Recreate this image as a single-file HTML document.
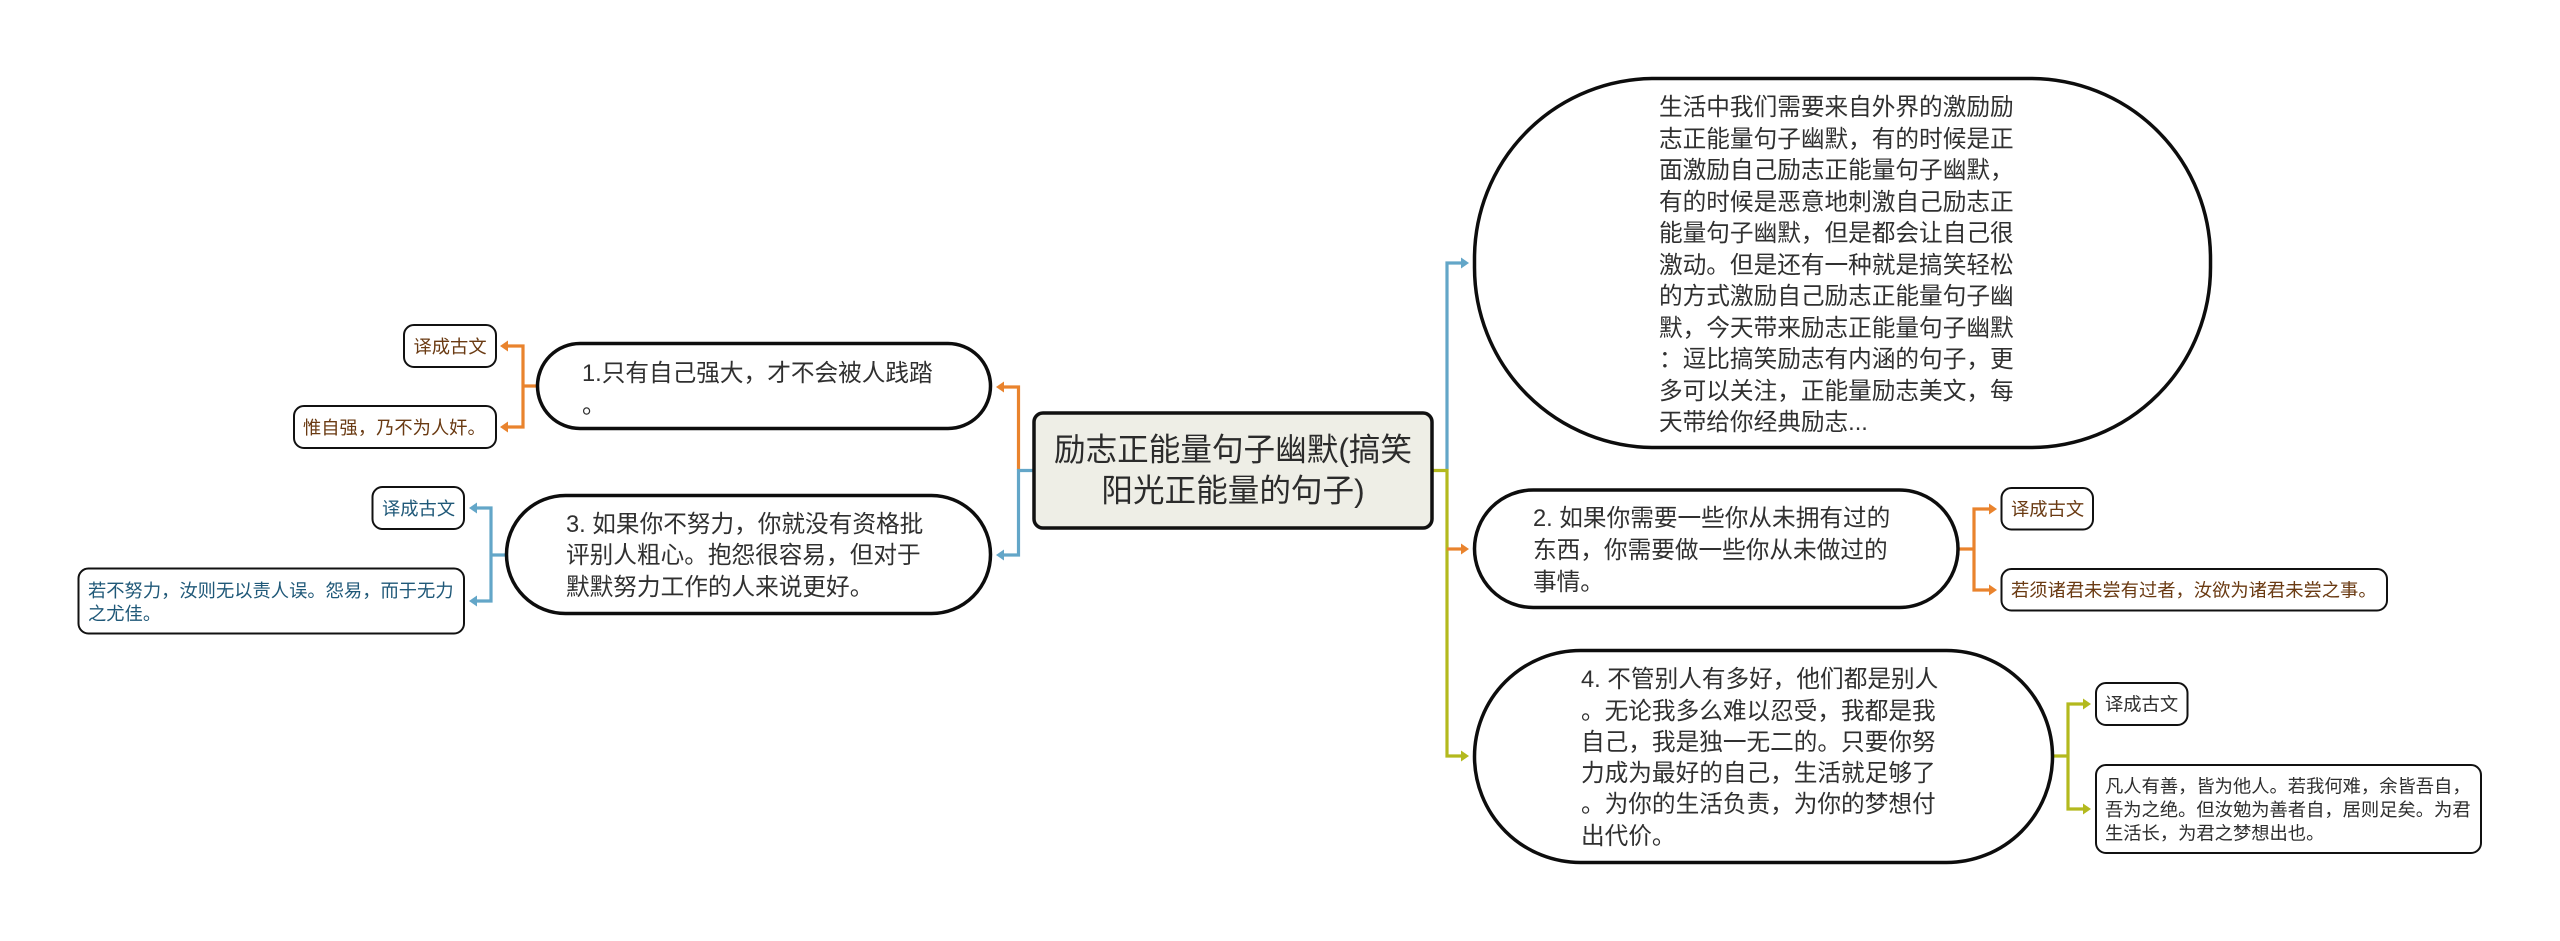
<!DOCTYPE html>
<html lang="zh">
<head>
<meta charset="utf-8">
<title>励志正能量句子幽默</title>
<style>
html,body{margin:0;padding:0;background:#fff;}
body{width:2560px;height:941px;overflow:hidden;}
svg{display:block;}
text{font-family:"Liberation Sans","Noto Sans CJK SC",sans-serif;white-space:pre;}
.n{font-size:23.65px;fill:#303030;}
.c{font-size:18.3px;}
.b{fill:#6a3a12;}
.u{fill:#1f5878;}
.k{fill:#2e2e2e;}
.node{fill:#fff;stroke:#0d0d0d;stroke-width:3.5;}
.box{fill:#fff;stroke:#111;stroke-width:2;}
.l{fill:none;stroke-width:3.2;}
</style>
</head>
<body>
<svg width="2560" height="941" viewBox="0 0 2560 941" xmlns="http://www.w3.org/2000/svg">
<!-- central connectors -->
<path class="l" stroke="#e9832d" d="M1018.5 470V387H1003"/>
<path d="M996 387l8-5.500v11z" fill="#e9832d"/>
<path class="l" stroke="#63a6c8" d="M1033 470.500H1018.500V555H1003"/>
<path d="M996 555l8-5.500v11z" fill="#63a6c8"/>
<path class="l" stroke="#63a6c8" d="M1447 470V263H1462"/>
<path d="M1469 263l-8-5.500v11z" fill="#63a6c8"/>
<path class="l" stroke="#b3b91e" d="M1433 470.500H1447V756H1462"/>
<path d="M1469 756l-8-5.500v11z" fill="#b3b91e"/>
<path class="l" stroke="#e9832d" d="M1447 549H1462"/>
<path d="M1469 549l-8-5.500v11z" fill="#e9832d"/>

<!-- left child connectors -->
<path class="l" stroke="#e9832d" d="M537 386H523M507 346H523V427H507"/>
<path d="M500 346l8-5.500v11zM500 427l8-5.500v11z" fill="#e9832d"/>
<path class="l" stroke="#63a6c8" d="M506 555H491M476 508H491V601H476"/>
<path d="M469 508l8-5.500v11zM469 601l8-5.500v11z" fill="#63a6c8"/>

<!-- right child connectors -->
<path class="l" stroke="#e9832d" d="M1959 549H1974M1990 509H1974V590H1990"/>
<path d="M1997 509l-8-5.500v11zM1997 590l-8-5.500v11z" fill="#e9832d"/>
<path class="l" stroke="#b3b91e" d="M2052 756H2068M2084 704H2068V809H2084"/>
<path d="M2091 704l-8-5.500v11zM2091 809l-8-5.500v11z" fill="#b3b91e"/>

<!-- central -->
<rect x="1034" y="413" width="398" height="115" rx="9" fill="#eeeee6" stroke="#111" stroke-width="3.500"/>
<text x="1233" y="460.500" font-size="31.600" fill="#2b2b2b" text-anchor="middle">励志正能量句子幽默(搞笑</text>
<text x="1233" y="501.500" font-size="31.600" fill="#2b2b2b" text-anchor="middle">阳光正能量的句子)</text>

<!-- big node -->
<rect class="node" x="1474.500" y="78.500" width="736" height="369" rx="180"/>
<text class="n" x="1659" y="115">生活中我们需要来自外界的激励励</text>
<text class="n" x="1659" y="147">志正能量句子幽默，有的时候是正</text>
<text class="n" x="1659" y="178">面激励自己励志正能量句子幽默，</text>
<text class="n" x="1659" y="210">有的时候是恶意地刺激自己励志正</text>
<text class="n" x="1659" y="241">能量句子幽默，但是都会让自己很</text>
<text class="n" x="1659" y="273">激动。但是还有一种就是搞笑轻松</text>
<text class="n" x="1659" y="304">的方式激励自己励志正能量句子幽</text>
<text class="n" x="1659" y="336">默，今天带来励志正能量句子幽默</text>
<text class="n" x="1659" y="367">：逗比搞笑励志有内涵的句子，更</text>
<text class="n" x="1659" y="399">多可以关注，正能量励志美文，每</text>
<text class="n" x="1659" y="430">天带给你经典励志...</text>

<!-- node 2 -->
<rect class="node" x="1474.500" y="490" width="483.500" height="117.500" rx="58.700"/>
<text class="n" x="1533" y="526">2. 如果你需要一些你从未拥有过的</text>
<text class="n" x="1533" y="558">东西，你需要做一些你从未做过的</text>
<text class="n" x="1533" y="590">事情。</text>

<!-- node 4 -->
<rect class="node" x="1474.500" y="650.500" width="578" height="212" rx="106"/>
<text class="n" x="1581" y="687">4. 不管别人有多好，他们都是别人</text>
<text class="n" x="1581" y="719">。无论我多么难以忍受，我都是我</text>
<text class="n" x="1581" y="750">自己，我是独一无二的。只要你努</text>
<text class="n" x="1581" y="781">力成为最好的自己，生活就足够了</text>
<text class="n" x="1581" y="812">。为你的生活负责，为你的梦想付</text>
<text class="n" x="1581" y="844">出代价。</text>

<!-- node 1 -->
<rect class="node" x="537.500" y="343.500" width="453" height="85" rx="42.500"/>
<text class="n" x="582" y="381">1.只有自己强大，才不会被人践踏</text>
<text class="n" x="582" y="413">。</text>

<!-- node 3 -->
<rect class="node" x="506.500" y="495.500" width="484" height="118" rx="59"/>
<text class="n" x="566" y="532">3. 如果你不努力，你就没有资格批</text>
<text class="n" x="566" y="563">评别人粗心。抱怨很容易，但对于</text>
<text class="n" x="566" y="595">默默努力工作的人来说更好。</text>

<!-- left boxes -->
<rect class="box" x="404" y="325" width="92" height="42" rx="10"/>
<text class="c b" x="413.500" y="353">译成古文</text>
<rect class="box" x="294" y="406" width="202" height="42" rx="10"/>
<text class="c b" x="303" y="434">惟自强，乃不为人奸。</text>
<rect class="box" x="372.500" y="487" width="91.500" height="42" rx="10"/>
<text class="c u" x="382" y="515">译成古文</text>
<rect class="box" x="78.500" y="568.500" width="385.500" height="65" rx="10"/>
<text class="c u" x="88" y="597">若不努力，汝则无以责人误。怨易，而于无力</text>
<text class="c u" x="88" y="620">之尤佳。</text>

<!-- right boxes -->
<rect class="box" x="2001.500" y="488" width="91.500" height="41.500" rx="10"/>
<text class="c b" x="2011" y="515.500">译成古文</text>
<rect class="box" x="2001.500" y="569" width="385.500" height="41.500" rx="10"/>
<text class="c b" x="2011" y="596.500">若须诸君未尝有过者，汝欲为诸君未尝之事。</text>
<rect class="box" x="2096" y="683" width="91.500" height="42" rx="10"/>
<text class="c k" x="2105" y="710.500">译成古文</text>
<rect class="box" x="2096" y="765" width="385" height="88" rx="10"/>
<text class="c k" x="2105" y="792.500">凡人有善，皆为他人。若我何难，余皆吾自，</text>
<text class="c k" x="2105" y="816">吾为之绝。但汝勉为善者自，居则足矣。为君</text>
<text class="c k" x="2105" y="839.500">生活长，为君之梦想出也。</text>
</svg>
</body>
</html>
